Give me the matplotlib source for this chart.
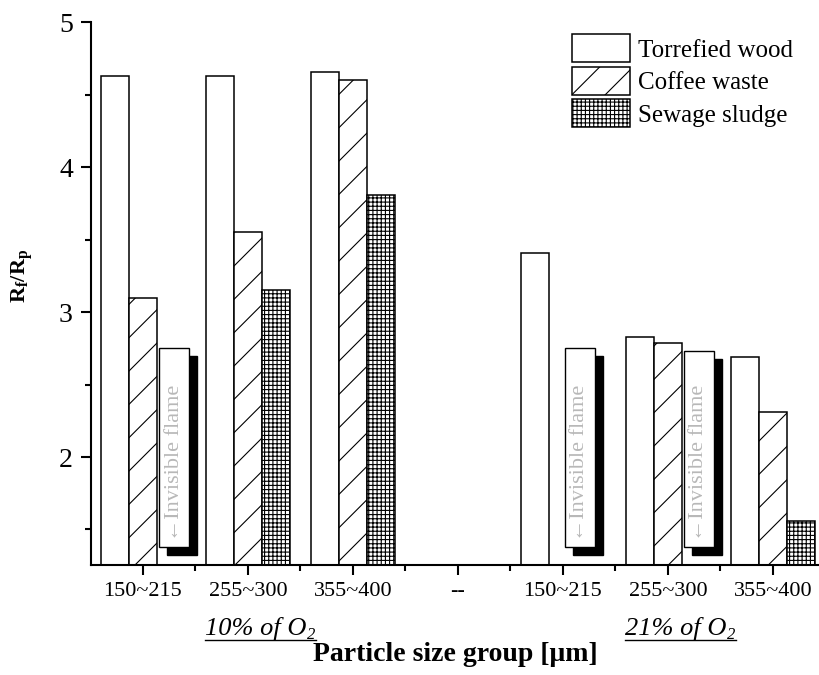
import numpy as np
import matplotlib
matplotlib.use('Agg')
import matplotlib.pyplot as plt
from matplotlib import transforms
from matplotlib.patches import Rectangle
from matplotlib.lines import Line2D

plt.rcParams['font.family'] = ['Liberation Serif', 'DejaVu Serif']
plt.rcParams['mathtext.fontset'] = 'custom'
plt.rcParams['mathtext.rm'] = 'Liberation Serif'
plt.rcParams['mathtext.it'] = 'Liberation Serif:italic'
plt.rcParams['mathtext.bf'] = 'Liberation Serif:bold'
plt.rcParams['hatch.linewidth'] = 0.8

# data
groups = ['150~215', '255~300', '355~400', '--', '150~215', '255~300', '355~400']
torrefied = [4.63, 4.63, 4.66, np.nan, 3.41, 2.83, 2.69]
coffee = [3.10, 3.55, 4.60, np.nan, np.nan, 2.79, 2.31]
sewage = [np.nan, 3.15, 3.81, np.nan, np.nan, np.nan, 1.56]
names = ['Torrefied wood', 'Coffee waste', 'Sewage sludge']

# "invisible flame" markers: group index and top of the box
flame_groups = [0, 4, 5]
flame_tops = [2.75, 2.75, 2.73]
flame_bottom = 1.38

o2_groups = [1, 5]
o2_labels = ['10% of O', '21% of O']

fig = plt.figure(figsize=(8.19, 6.75), dpi=100)
ax = fig.add_axes([0.111, 0.163, 0.889, 0.804])

x = np.arange(len(groups))
w = 0.267
series = [torrefied, coffee, sewage]
hatches = ['', '/', '++++']

bars = []
for i, s in enumerate(series):
    b = ax.bar(x + (i - 1) * w, s, w, color='white', edgecolor='black',
               linewidth=1.1, hatch=hatches[i], zorder=2)
    bars.append(b)

# invisible flame boxes with drop shadow
shadow_tr = transforms.offset_copy(ax.transData, fig=fig, x=8, y=-8, units='dots')
for g, top in zip(flame_groups, flame_tops):
    missing = [x[g] + (i - 1) * w for i, s in enumerate(series) if np.isnan(s[g])]
    cx = np.mean(missing) + 0.03
    bw = 0.29
    ax.add_patch(Rectangle((cx - bw / 2, flame_bottom), bw, top - flame_bottom,
                           transform=shadow_tr, facecolor='black',
                           edgecolor='black', zorder=3))
    ax.add_patch(Rectangle((cx - bw / 2, flame_bottom), bw, top - flame_bottom,
                           facecolor='white', edgecolor='black', lw=1, zorder=4))
    ax.text(cx, flame_bottom + 0.04, '\u2190Invisible flame', rotation=90,
            ha='center', va='bottom', color='#b8b8b8', fontsize=16, zorder=5)

ax.set_xlim(-0.495, 6.44)
ax.set_ylim(1.255, 5)
ax.set_xticks(x)
ax.set_xticklabels(groups)
ax.set_xticks(np.arange(0.5, 6, 1), minor=True)
ax.set_yticks([2, 3, 4, 5])
ax.set_yticks([1.5, 2.5, 3.5, 4.5], minor=True)

ax.tick_params(which='major', direction='out', length=7, width=1.5)
ax.tick_params(which='minor', direction='out', length=4.5, width=1.5)
ax.tick_params(axis='y', labelsize=20, pad=6)
ax.tick_params(axis='x', labelsize=16, pad=5)
for sp in ['top', 'right']:
    ax.spines[sp].set_visible(False)
for sp in ['left', 'bottom']:
    ax.spines[sp].set_linewidth(1.5)

ax.legend(bars, names, loc='upper left', bbox_to_anchor=(0.661, 0.978),
          frameon=False, fontsize=18, handlelength=2.3, handleheight=1.35,
          labelspacing=0.18, handletextpad=0.35, borderpad=0, borderaxespad=0)

fig.text(0.027, 0.592, r'$\mathbf{R_f/R_p}$', rotation=90, ha='center',
         va='center', fontsize=16)
fig.text(0.5556, 0.021, 'Particle size group [\u03bcm]', ha='center',
         va='baseline', fontsize=20, fontweight='bold')

tr = transforms.blended_transform_factory(ax.transData, fig.transFigure)
o2_texts = []
for g, lab in zip(o2_groups, o2_labels):
    t = ax.text(g - 0.41, 0.059, lab, transform=tr, ha='left',
                va='baseline', fontsize=19, style='italic')
    o2_texts.append(t)

# subscript 2 and underline for the oxygen labels
fig.canvas.draw()
r = fig.canvas.get_renderer()
H = fig.get_figheight() * fig.dpi
W = fig.get_figwidth() * fig.dpi
for t in o2_texts:
    bb = t.get_window_extent(r)
    sub = fig.text((bb.x1 + 1) / W, 0.059 - 4 / H, '2', fontsize=12,
                   style='italic', ha='left', va='baseline')
    bs = sub.get_window_extent(r)
    yy = (0.059 * H - 5) / H
    fig.add_artist(Line2D([bb.x0 / W, bs.x1 / W], [yy, yy],
                          transform=fig.transFigure, color='black', lw=1))

fig.savefig('out.png', dpi=100)
